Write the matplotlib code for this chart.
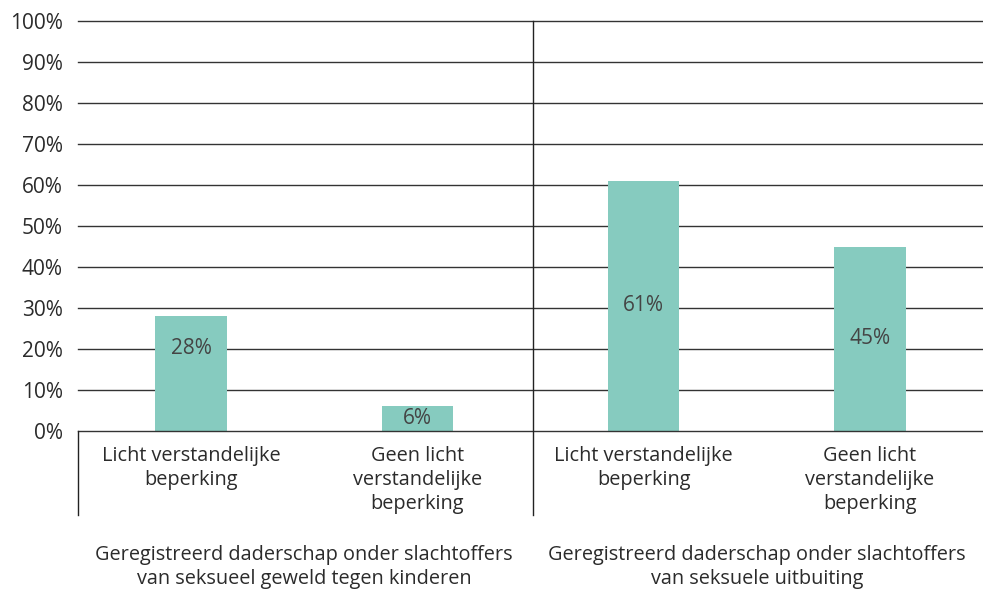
import matplotlib.pyplot as plt
from matplotlib import transforms

# Data
categories = ["Licht verstandelijke\nbeperking", "Geen licht\nverstandelijke\nbeperking",
              "Licht verstandelijke\nbeperking", "Geen licht\nverstandelijke\nbeperking"]
values = [28, 6, 61, 45]
value_labels = ["28%", "6%", "61%", "45%"]
groups = ["Geregistreerd daderschap onder slachtoffers\nvan seksueel geweld tegen kinderen",
          "Geregistreerd daderschap onder slachtoffers\nvan seksuele uitbuiting"]
y_ticks = [0, 10, 20, 30, 40, 50, 60, 70, 80, 90, 100]
y_tick_labels = [f"{t}%" for t in y_ticks]

# where the label inside each bar sits (data units)
label_y = [20, 3, 30.5, 22.5]

plt.rcParams['font.family'] = ['Open Sans', 'DejaVu Sans']
text_color = '#2b2b2b'
bar_color = '#86cbbf'

fig = plt.figure(figsize=(9.83, 5.94), dpi=100)
ax = fig.add_axes([78 / 983, 1 - 431 / 594, 905 / 983, 410 / 594])

x = list(range(len(values)))
ax.set_xlim(-0.5, len(values) - 0.5)
ax.set_ylim(0, 100)

# grid lines under the bars
for t in y_ticks[1:]:
    ax.axhline(t, color='#333333', linewidth=1.0, zorder=1, clip_on=False)

ax.bar(x, values, width=0.315, color=bar_color, zorder=2)

for xi, ly, lab in zip(x, label_y, value_labels):
    ax.text(xi, ly, lab, ha='center', va='center', fontsize=15, color='#444444', zorder=3)

ax.set_yticks(y_ticks)
ax.set_yticklabels(y_tick_labels, fontsize=15, color=text_color)
ax.tick_params(axis='y', length=0, pad=11)
ax.set_xticks([])

for s in ['top', 'right', 'left']:
    ax.spines[s].set_visible(False)
ax.spines['bottom'].set_color('#333333')
ax.spines['bottom'].set_linewidth(1.0)

# vertical separators
ax.axvline(1.51, ymin=-0.205, ymax=1.0, color='#222222', linewidth=1.0, clip_on=False, zorder=3)
ax.axvline(-0.5, ymin=-0.205, ymax=0.0, color='#222222', linewidth=1.0, clip_on=False, zorder=3)

trans = transforms.blended_transform_factory(ax.transData, ax.transAxes)
for xi, cat in zip(x, categories):
    ax.text(xi, -0.036, cat, transform=trans, ha='center', va='top',
            fontsize=14.3, color=text_color, linespacing=1.27)

for gi, g in enumerate(groups):
    ax.text(gi * 2 + 0.5, -0.278, g, transform=trans, ha='center', va='top',
            fontsize=14.3, color=text_color, linespacing=1.27)

fig.savefig('out.png', dpi=100)
